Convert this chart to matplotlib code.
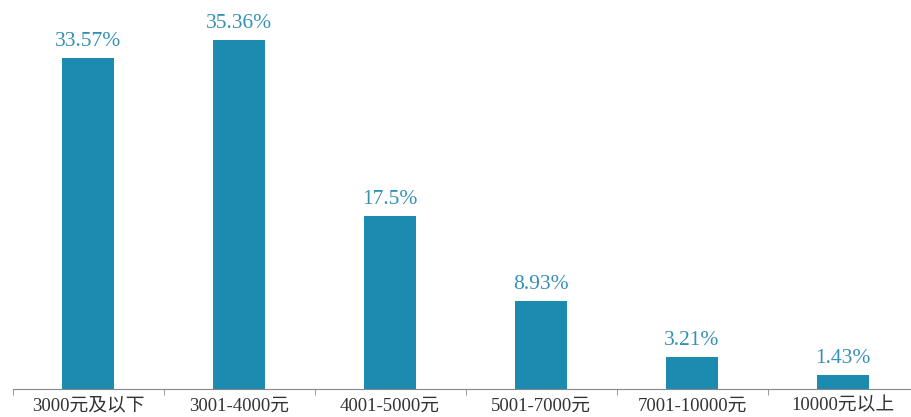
import matplotlib.pyplot as plt
import numpy as np

categories = ['3000元及以下', '3001-4000元', '4001-5000元', '5001-7000元', '7001-10000元', '10000元以上']
values = [33.57, 35.36, 17.5, 8.93, 3.21, 1.43]
value_labels = ['33.57%', '35.36%', '17.5%', '8.93%', '3.21%', '1.43%']

bar_color = '#1b8bb0'
label_color = '#3590b4'
fonts = ['Liberation Serif', 'Noto Sans CJK SC']

fig = plt.figure(figsize=(9.11, 4.17), dpi=100)
ax = fig.add_axes([12.5 / 911, 1 - 389 / 417, 906 / 911, 389 / 417])

x = np.arange(len(categories))
bars = ax.bar(x, values, width=0.34, color=bar_color)

for b, lab in zip(bars, value_labels):
    ax.annotate(lab, (b.get_x() + b.get_width() / 2, b.get_height()),
                xytext=(0, 5), textcoords='offset points', ha='center', va='bottom',
                color=label_color, fontsize=15.5, family=fonts)

ax.set_xlim(-0.5, len(categories) - 0.5)
ax.set_ylim(0, 39.4)
ax.set_xticks(x)
ax.set_xticklabels(categories, family=fonts, fontsize=13.5, color='#333333')
ax.set_xticks(np.arange(-0.5, len(categories), 1), minor=True)
ax.tick_params(axis='x', which='major', length=0, pad=6)
ax.tick_params(axis='x', which='minor', length=4, color='#888888', direction='out')
ax.set_yticks([])
for side in ['top', 'right', 'left']:
    ax.spines[side].set_visible(False)
ax.spines['bottom'].set_color('#888888')

fig.savefig('out.png', dpi=100)
